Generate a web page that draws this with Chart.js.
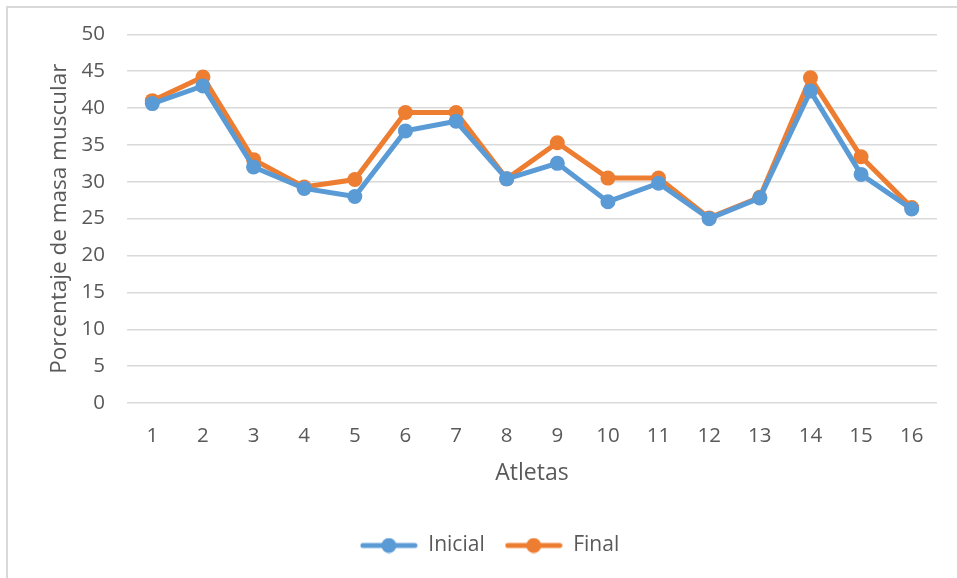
<!DOCTYPE html>
<html>
<head>
<meta charset="utf-8">
<script src="https://cdn.jsdelivr.net/npm/chart.js@4"></script>
<style>
  html, body { margin: 0; padding: 0; background: #ffffff; }
  #frame { position: absolute; left: 6px; top: 6px; width: 960px; height: 580px; border: 2px solid #d9d9d9; box-sizing: border-box; }
  #wrap { position: absolute; left: 0; top: 0; width: 957px; height: 578px; }
</style>
</head>
<body>
<div id="frame"></div>
<div id="wrap"><canvas id="c" width="957" height="578"></canvas></div>
<script>
const atletas = ['1','2','3','4','5','6','7','8','9','10','11','12','13','14','15','16'];
const inicial = [40.6, 43.0, 32.0, 29.1, 28.0, 36.9, 38.2, 30.4, 32.5, 27.3, 29.8, 25.0, 27.8, 42.3, 31.0, 26.3];
const final   = [41.0, 44.2, 33.0, 29.3, 30.3, 39.4, 39.4, 30.4, 35.3, 30.5, 30.5, 25.1, 27.9, 44.1, 33.4, 26.5];
const yTicks  = [0, 5, 10, 15, 20, 25, 30, 35, 40, 45, 50];

const BLUE = '#5b9bd5';
const ORANGE = '#ed7d31';
const TEXT = '#595959';
const FONT = "'Open Sans', 'Noto Sans', sans-serif";

// legend marker: a short line with a dot in the middle
function legendMarker(color) {
  const cv = document.createElement('canvas');
  cv.width = 58; cv.height = 16;
  const g = cv.getContext('2d');
  g.strokeStyle = color; g.lineWidth = 5; g.lineCap = 'round';
  g.beginPath(); g.moveTo(3, 8); g.lineTo(55, 8); g.stroke();
  g.fillStyle = color;
  g.beginPath(); g.arc(29, 8, 7.5, 0, Math.PI * 2); g.fill();
  return cv;
}

const series = [
  { label: 'Inicial', data: inicial, color: BLUE },
  { label: 'Final', data: final, color: ORANGE }
];

new Chart(document.getElementById('c'), {
  type: 'line',
  data: {
    labels: atletas,
    datasets: series.map(s => ({
      label: s.label,
      data: s.data,
      borderColor: s.color,
      backgroundColor: s.color,
      borderWidth: 5,
      pointRadius: 7.5,
      pointHoverRadius: 7.5,
      pointBorderWidth: 0,
      tension: 0
    }))
  },
  options: {
    responsive: false,
    animation: false,
    layout: { padding: { left: 42, right: 20, top: 32, bottom: 12 } },
    plugins: {
      tooltip: { enabled: false },
      legend: {
        position: 'bottom',
        labels: {
          usePointStyle: true,
          pointStyleWidth: 58,
          boxHeight: 16,
          padding: 20,
          color: TEXT,
          font: { family: FONT, size: 21 },
          generateLabels: chart => chart.data.datasets.map((d, i) => ({
            text: d.label,
            pointStyle: legendMarker(d.borderColor),
            fillStyle: d.borderColor,
            strokeStyle: d.borderColor,
            lineWidth: 0,
            fontColor: TEXT,
            datasetIndex: i,
            hidden: false
          }))
        }
      }
    },
    scales: {
      x: {
        offset: true,
        grid: { display: false },
        border: { display: false },
        ticks: { color: TEXT, font: { family: FONT, size: 20.5 }, padding: 13 },
        title: { display: true, text: 'Atletas', color: TEXT, font: { family: FONT, size: 23 }, padding: { top: 6, bottom: 28 } },
        afterFit: s => { s.height = 112; }
      },
      y: {
        min: 0, max: 50,
        afterBuildTicks: s => { s.ticks = yTicks.map(v => ({ value: v })); },
        grid: { color: '#d9d9d9', lineWidth: 1.5, drawTicks: false },
        border: { display: false },
        ticks: { color: TEXT, font: { family: FONT, size: 20.5 }, padding: 22 },
        title: { display: true, text: 'Porcentaje de masa muscular', color: TEXT, font: { family: FONT, size: 22.5 }, padding: { bottom: 4 } },
        afterFit: s => { s.width = 85; }
      }
    }
  }
});
</script>
</body>
</html>
